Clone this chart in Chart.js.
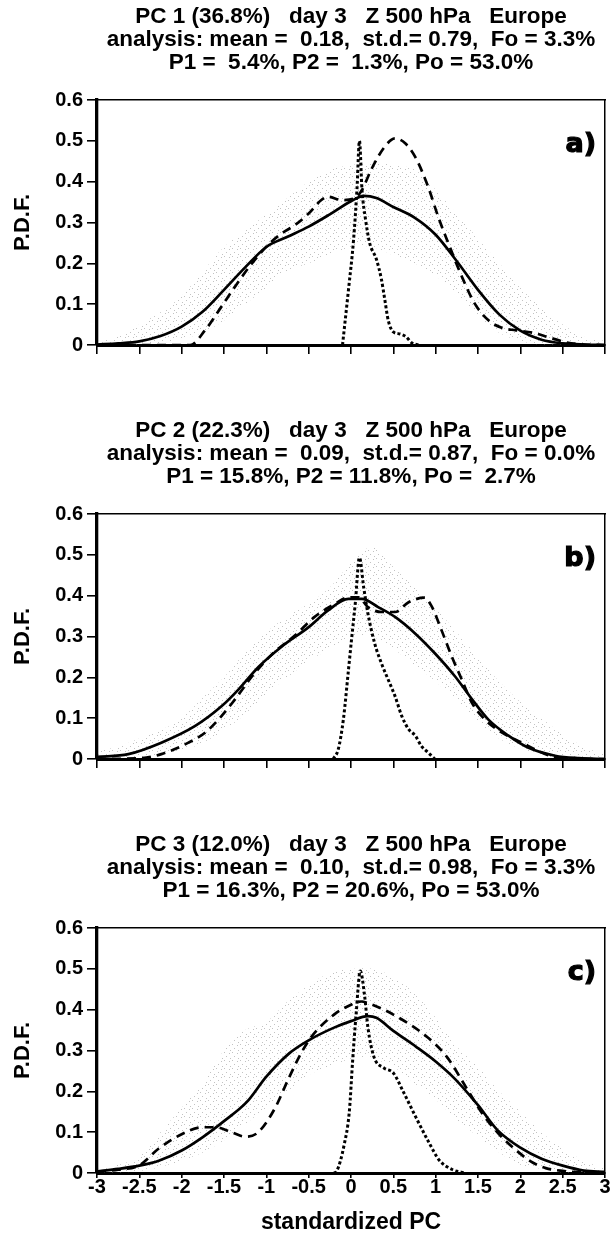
<!DOCTYPE html>
<html>
<head>
<meta charset="utf-8">
<script src="https://cdn.jsdelivr.net/npm/chart.js@4.4.1/dist/chart.umd.min.js"></script>
<style>
  body { margin: 0; background: #fff; }
  canvas { position: absolute; left: 0; }
</style>
</head>
<body>
<canvas id="pcA" width="610" height="414" style="top:0px"></canvas>
<canvas id="pcB" width="610" height="414" style="top:414px"></canvas>
<canvas id="pcC" width="610" height="415" style="top:828px"></canvas>
<script>
// ---- data ----
var cloudX = [-3, -2.75, -2.5, -2.25, -2, -1.75, -1.5, -1.25, -1, -0.75, -0.5, -0.25, 0, 0.25, 0.5, 0.75, 1, 1.25, 1.5, 1.75, 2, 2.25, 2.5, 2.75, 3];

// PC 1
var aTitle = ["PC 1 (36.8%)   day 3   Z 500 hPa   Europe",
              "analysis: mean =  0.18,  st.d.= 0.79,  Fo = 3.3%",
              "P1 =  5.4%, P2 =  1.3%, Po = 53.0%"];
var aSolidX = [-3, -2.75, -2.5, -2.25, -2, -1.75, -1.5, -1.25, -1, -0.75, -0.5, -0.25, 0, 0.15, 0.3, 0.5, 0.75, 1, 1.25, 1.5, 1.75, 2, 2.25, 2.5, 2.75, 3];
var aSolidY = [0.001, 0.004, 0.009, 0.022, 0.045, 0.082, 0.135, 0.19, 0.24, 0.265, 0.29, 0.32, 0.352, 0.365, 0.36, 0.338, 0.312, 0.27, 0.205, 0.135, 0.075, 0.035, 0.013, 0.004, 0.001, 0];
var aDashX = [-3, -1.9, -1.72, -1.53, -1.37, -1.17, -0.98, -0.82, -0.66, -0.5, -0.35, -0.27, -0.11, 0.05, 0.13, 0.24, 0.4, 0.52, 0.64, 0.76, 0.91, 1.03, 1.15, 1.31, 1.46, 1.62, 1.78, 1.95, 2.15, 2.35, 2.55, 2.75, 3];
var aDashY = [0, 0, 0.037, 0.094, 0.143, 0.2, 0.245, 0.273, 0.294, 0.322, 0.355, 0.363, 0.355, 0.36, 0.38, 0.43, 0.486, 0.506, 0.494, 0.46, 0.388, 0.314, 0.249, 0.167, 0.102, 0.061, 0.042, 0.036, 0.03, 0.018, 0.006, 0.001, 0];
var aDotX = [-0.1, -0.03, 0.03, 0.07, 0.1, 0.13, 0.17, 0.22, 0.3, 0.36, 0.4, 0.44, 0.5, 0.58, 0.65, 0.72, 0.8];
var aDotY = [0, 0.135, 0.257, 0.38, 0.5, 0.38, 0.31, 0.25, 0.21, 0.16, 0.11, 0.06, 0.032, 0.027, 0.02, 0.005, 0];
var aCloudHi = [0.01, 0.02, 0.05, 0.08, 0.12, 0.18, 0.24, 0.28, 0.32, 0.36, 0.4, 0.43, 0.44, 0.45, 0.44, 0.43, 0.38, 0.32, 0.26, 0.2, 0.14, 0.09, 0.05, 0.02, 0.01];
var aCloudLo = [0, 0, 0, 0.005, 0.015, 0.03, 0.06, 0.1, 0.14, 0.18, 0.2, 0.22, 0.24, 0.24, 0.22, 0.2, 0.17, 0.12, 0.07, 0.03, 0.01, 0, 0, 0, 0];

// PC 2
var bTitle = ["PC 2 (22.3%)   day 3   Z 500 hPa   Europe",
              "analysis: mean =  0.09,  st.d.= 0.87,  Fo = 0.0%",
              "P1 = 15.8%, P2 = 11.8%, Po =  2.7%"];
var bSolidX = [-3, -2.63, -2.24, -1.84, -1.53, -1.33, -1.09, -0.82, -0.5, -0.27, -0.03, 0.13, 0.32, 0.52, 0.76, 0.99, 1.23, 1.43, 1.62, 1.86, 2.09, 2.41, 2.69, 3];
var bSolidY = [0.005, 0.012, 0.04, 0.081, 0.129, 0.17, 0.226, 0.275, 0.323, 0.364, 0.392, 0.392, 0.372, 0.348, 0.307, 0.259, 0.202, 0.146, 0.097, 0.057, 0.028, 0.008, 0.002, 0];
var bDashX = [-3, -2.47, -2.24, -1.92, -1.72, -1.53, -1.37, -1.17, -0.94, -0.66, -0.43, -0.19, -0.03, 0.09, 0.2, 0.36, 0.52, 0.68, 0.87, 0.95, 1.07, 1.19, 1.31, 1.43, 1.58, 1.78, 2.02, 2.21, 2.41, 2.6, 3];
var bDashY = [0, 0.002, 0.012, 0.04, 0.065, 0.105, 0.146, 0.202, 0.255, 0.303, 0.348, 0.38, 0.396, 0.396, 0.372, 0.36, 0.36, 0.384, 0.395, 0.375, 0.315, 0.251, 0.194, 0.137, 0.097, 0.065, 0.04, 0.02, 0.004, 0, 0];
var bDotX = [-0.21, -0.15, -0.09, -0.03, 0.01, 0.05, 0.1, 0.15, 0.2, 0.28, 0.36, 0.44, 0.52, 0.6, 0.68, 0.76, 0.83, 0.91, 0.99];
var bDotY = [0, 0.024, 0.097, 0.218, 0.3, 0.38, 0.493, 0.42, 0.356, 0.283, 0.234, 0.194, 0.154, 0.105, 0.073, 0.057, 0.032, 0.016, 0];
var bCloudHi = [0.02, 0.03, 0.05, 0.07, 0.1, 0.15, 0.2, 0.26, 0.31, 0.35, 0.38, 0.42, 0.48, 0.52, 0.47, 0.42, 0.37, 0.31, 0.25, 0.19, 0.14, 0.1, 0.06, 0.03, 0.01];
var bCloudLo = [0, 0, 0.002, 0.008, 0.02, 0.04, 0.07, 0.11, 0.16, 0.2, 0.24, 0.27, 0.3, 0.3, 0.27, 0.23, 0.19, 0.14, 0.09, 0.05, 0.025, 0.01, 0, 0, 0];

// PC 3
var cTitle = ["PC 3 (12.0%)   day 3   Z 500 hPa   Europe",
              "analysis: mean =  0.10,  st.d.= 0.98,  Fo = 3.3%",
              "P1 = 16.3%, P2 = 20.6%, Po = 53.0%"];
var cSolidX = [-3, -2.75, -2.5, -2.27, -2, -1.75, -1.5, -1.23, -1, -0.73, -0.5, -0.2, 0, 0.2, 0.3, 0.5, 0.77, 1, 1.23, 1.5, 1.73, 2, 2.25, 2.5, 2.75, 3];
var cSolidY = [0.004, 0.01, 0.018, 0.03, 0.055, 0.088, 0.127, 0.174, 0.236, 0.293, 0.325, 0.356, 0.372, 0.384, 0.38, 0.348, 0.309, 0.273, 0.23, 0.166, 0.105, 0.062, 0.035, 0.018, 0.006, 0.003];
var cDashX = [-3, -2.75, -2.5, -2.27, -2, -1.76, -1.6, -1.4, -1.25, -1.1, -0.9, -0.74, -0.59, -0.47, -0.2, 0, 0.12, 0.2, 0.5, 0.9, 1.13, 1.37, 1.56, 1.75, 1.96, 2.15, 2.3, 2.5, 2.75, 3];
var cDashY = [0.003, 0.008, 0.019, 0.06, 0.095, 0.112, 0.112, 0.099, 0.089, 0.099, 0.158, 0.23, 0.293, 0.333, 0.388, 0.412, 0.42, 0.416, 0.388, 0.333, 0.285, 0.206, 0.143, 0.095, 0.054, 0.025, 0.012, 0.005, 0.001, 0];
var cDotX = [-0.2, -0.17, -0.08, -0.02, 0.02, 0.06, 0.11, 0.16, 0.2, 0.27, 0.39, 0.5, 0.62, 0.77, 0.93, 1.04, 1.2, 1.35];
var cDotY = [0, 0.004, 0.07, 0.15, 0.277, 0.388, 0.495, 0.435, 0.356, 0.285, 0.257, 0.245, 0.198, 0.135, 0.071, 0.032, 0.008, 0];
var cCloudHi = [0.01, 0.02, 0.04, 0.1, 0.16, 0.22, 0.3, 0.35, 0.37, 0.42, 0.46, 0.49, 0.5, 0.5, 0.48, 0.44, 0.38, 0.31, 0.26, 0.2, 0.15, 0.1, 0.06, 0.03, 0.01];
var cCloudLo = [0, 0, 0.005, 0.015, 0.03, 0.05, 0.08, 0.12, 0.16, 0.2, 0.24, 0.26, 0.28, 0.28, 0.26, 0.22, 0.18, 0.13, 0.09, 0.05, 0.02, 0.01, 0, 0, 0];

Chart.defaults.font.family = '"Liberation Sans", Arial, Helvetica, sans-serif';
Chart.defaults.font.weight = 'bold';
Chart.defaults.color = '#000';

function pts(xs, ys) {
    return xs.map(function (x, i) { return { x: x, y: ys[i] }; });
}

// light grey stipple for the ensemble cloud
function stipple() {
    var c = document.createElement('canvas');
    c.width = 8; c.height = 8;
    var g = c.getContext('2d');
    g.fillStyle = 'rgba(120,120,120,0.45)';
    g.fillRect(0, 0, 1, 1);
    g.fillRect(5, 1, 1, 1);
    g.fillRect(2, 4, 1, 1);
    g.fillRect(6, 6, 1, 1);
    return g.createPattern(c, 'repeat');
}

function panelTag(text) {
    return {
        id: 'panelTag',
        afterDraw: function (chart) {
            var ctx = chart.ctx, area = chart.chartArea;
            ctx.save();
            ctx.font = 'bold 27px "DejaVu Sans", sans-serif';
            ctx.textAlign = 'right';
            ctx.textBaseline = 'alphabetic';
            ctx.fillStyle = '#000';
            ctx.strokeStyle = '#000';
            ctx.lineWidth = 1.2;
            ctx.fillText(text, area.right - 9, area.top + 52);
            ctx.strokeText(text, area.right - 9, area.top + 52);
            ctx.restore();
        }
    };
}

function makePanel(id, title, tag, solid, dash, dot, hi, lo, bottom) {
    var line = { pointRadius: 0, borderColor: '#000', fill: false, cubicInterpolationMode: 'monotone' };
    new Chart(document.getElementById(id).getContext('2d'), {
        type: 'line',
        data: {
            datasets: [
                { data: pts(cloudX, lo), borderWidth: 0, pointRadius: 0, fill: false, tension: 0.3, order: 10 },
                { data: pts(cloudX, hi), borderWidth: 0, pointRadius: 0, fill: '-1', tension: 0.3,
                  backgroundColor: stipple(), order: 9 },
                Object.assign({ data: solid, borderWidth: 2.7, order: 1 }, line),
                Object.assign({ data: dash, borderWidth: 2.7, borderDash: [9, 6], order: 2 }, line),
                Object.assign({ data: dot, borderWidth: 3, borderDash: [3, 2.4], order: 3 }, line)
            ]
        },
        options: {
            responsive: false,
            devicePixelRatio: 1,
            animation: false,
            events: [],
            layout: { padding: { left: 4, right: 5, top: 0, bottom: 0 } },
            plugins: {
                legend: { display: false },
                tooltip: { enabled: false },
                title: {
                    display: true,
                    fullSize: false,
                    text: title,
                    font: { size: 22.5, weight: 'bold', lineHeight: '23px' },
                    padding: { top: 5.5, bottom: 25.5 }
                }
            },
            scales: {
                x: {
                    type: 'linear', position: 'bottom', min: -3, max: 3,
                    ticks: { stepSize: 0.5, display: bottom, padding: -3, maxRotation: 0, font: { size: 20 },
                             callback: function (v) { return String(Math.round(v * 10) / 10); } },
                    grid: { drawOnChartArea: false, drawTicks: true, tickLength: bottom ? 5 : 9, color: '#000', lineWidth: 1.6 },
                    border: { color: '#000', width: 3 },
                    title: { display: bottom, text: 'standardized PC', font: { size: 23 }, padding: { top: 0, bottom: 7 } },
                    afterFit: function (s) { s.height = bottom ? 70 : 69; }
                },
                xTop: {
                    type: 'linear', position: 'top', min: -3, max: 3,
                    ticks: { display: false }, grid: { display: false },
                    border: { color: '#000', width: 1.5 },
                    afterFit: function (s) { s.height = 0; }
                },
                y: {
                    type: 'linear', position: 'left', min: 0, max: 0.6,
                    ticks: { stepSize: 0.1, padding: 4, font: { size: 20 } },
                    grid: { drawOnChartArea: false, drawTicks: true, tickLength: 10, color: '#000', lineWidth: 1.6 },
                    border: { color: '#000', width: 3.3 },
                    title: { display: true, text: 'P.D.F.', font: { size: 22 }, padding: { top: 6, bottom: 0 } },
                    afterFit: function (s) { s.width = 93; }
                },
                yRight: {
                    type: 'linear', position: 'right', min: 0, max: 0.6,
                    ticks: { display: false }, grid: { display: false },
                    border: { color: '#000', width: 1.5 },
                    afterFit: function (s) { s.width = 0; }
                }
            }
        },
        plugins: [panelTag(tag)]
    });
}

makePanel('pcA', aTitle, 'a)', pts(aSolidX, aSolidY), pts(aDashX, aDashY), pts(aDotX, aDotY), aCloudHi, aCloudLo, false);
makePanel('pcB', bTitle, 'b)', pts(bSolidX, bSolidY), pts(bDashX, bDashY), pts(bDotX, bDotY), bCloudHi, bCloudLo, false);
makePanel('pcC', cTitle, 'c)', pts(cSolidX, cSolidY), pts(cDashX, cDashY), pts(cDotX, cDotY), cCloudHi, cCloudLo, true);
</script>
</body>
</html>
